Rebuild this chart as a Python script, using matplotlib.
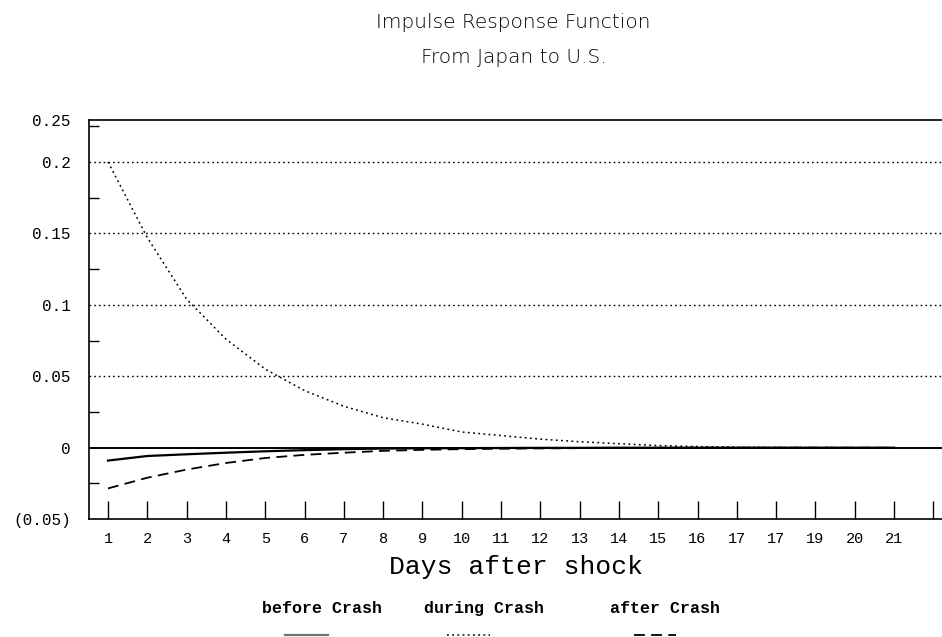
import matplotlib
matplotlib.use('Agg')
import matplotlib.pyplot as plt
from matplotlib.lines import Line2D

# days after the shock
days = list(range(1, 22))

# responses
before_crash = [-0.009, -0.0058, -0.0046, -0.0035, -0.0025, -0.0017, -0.001, -0.0006,
                -0.0004, -0.0003, -0.0002, -0.0001, -0.0001, 0.0, 0.0, 0.0,
                0.0, 0.0, 0.0, 0.0, 0.0]
during_crash = [0.2, 0.147, 0.104, 0.076, 0.055, 0.040, 0.029, 0.021,
                0.0165, 0.011, 0.0085, 0.006, 0.0042, 0.0028, 0.0015, 0.0008,
                0.0004, 0.0002, 0.0001, 0.0, 0.0]
after_crash = [-0.0285, -0.021, -0.0153, -0.0107, -0.0072, -0.005, -0.0035, -0.0022,
               -0.0015, -0.001, -0.0007, -0.0005, -0.0003, -0.0002, -0.0001, 0.0,
               0.0, 0.0, 0.0, 0.0, 0.0]

x_tick_pos = list(range(1, 23))
x_tick_labels = ['1', '2', '3', '4', '5', '6', '7', '8', '9', '10', '11', '12', '13',
                 '14', '15', '16', '17', '17', '19', '20', '21', '']
y_tick_pos = [-0.05, 0.0, 0.05, 0.1, 0.15, 0.2, 0.2293]
y_tick_labels = ['(0.05)', '0', '0.05', '0.1', '0.15', '0.2', '0.25']
legend_names = ['before Crash', 'during Crash', 'after Crash']

mono = 'Liberation Mono'

fig = plt.figure(figsize=(9.42, 6.37), dpi=100)
ax = fig.add_axes([0.0945, 0.185, 0.9055, 0.6265])

# horizontal dotted grid and solid zero line
for yv in [0.05, 0.1, 0.15, 0.2]:
    ax.axhline(yv, color='black', lw=1.0, ls=(0, (1.2, 2.2)), zorder=1)
ax.axhline(0.0, color='black', lw=1.4, zorder=1)

ax.plot(days, before_crash, color='black', lw=1.6, ls='-', zorder=3)
ax.plot(days, during_crash, color='black', lw=1.1, ls=(0, (1.2, 2.2)), zorder=3)
ax.plot(days, after_crash, color='black', lw=1.3, ls=(0, (6, 3.5)), zorder=3)

ax.set_xlim(0.517, 22.22)
ax.set_ylim(-0.05, 0.2293)

ax.set_xticks(x_tick_pos)
ax.set_xticklabels(x_tick_labels, fontfamily=mono, fontsize=11)
ax.set_yticks(y_tick_pos)
ax.set_yticklabels(y_tick_labels, fontfamily=mono, fontsize=11.5)
ax.set_yticks([-0.025, 0.025, 0.075, 0.125, 0.175, 0.225], minor=True)

ax.tick_params(axis='x', direction='in', length=13, width=1.0, pad=9)
ax.tick_params(axis='y', which='major', direction='in', length=0, pad=13)
ax.tick_params(axis='y', which='minor', direction='in', length=7, width=1.0)

ax.spines['right'].set_visible(False)
for s in ['left', 'bottom', 'top']:
    ax.spines[s].set_linewidth(1.2)

ax.set_xlabel('Days after shock', fontfamily=mono, fontsize=19, labelpad=7)

fig.text(0.545, 0.965, 'Impulse Response Function', ha='center', va='center',
         fontsize=14.5, fontfamily='DejaVu Sans', fontweight='light')
fig.text(0.545, 0.91, 'From Japan to U.S.', ha='center', va='center',
         fontsize=14.5, fontfamily='DejaVu Sans', fontweight='light')

# legend texts with small samples underneath
legend_x = [0.278, 0.450, 0.648]
legend_styles = [dict(ls='-', lw=1.6, color='0.45'),
                 dict(ls=(0, (1.2, 2.2)), lw=1.1, color='black'),
                 dict(ls=(0, (6, 3.5)), lw=1.3, color='black')]
for name, lx, st in zip(legend_names, legend_x, legend_styles):
    fig.text(lx, 0.045, name, ha='left', va='center', fontfamily=mono,
             fontsize=12, fontweight='bold')
    fig.add_artist(Line2D([lx + 0.025, lx + 0.07], [0.003, 0.003],
                          transform=fig.transFigure, **st))

fig.savefig('out.png', dpi=100)
